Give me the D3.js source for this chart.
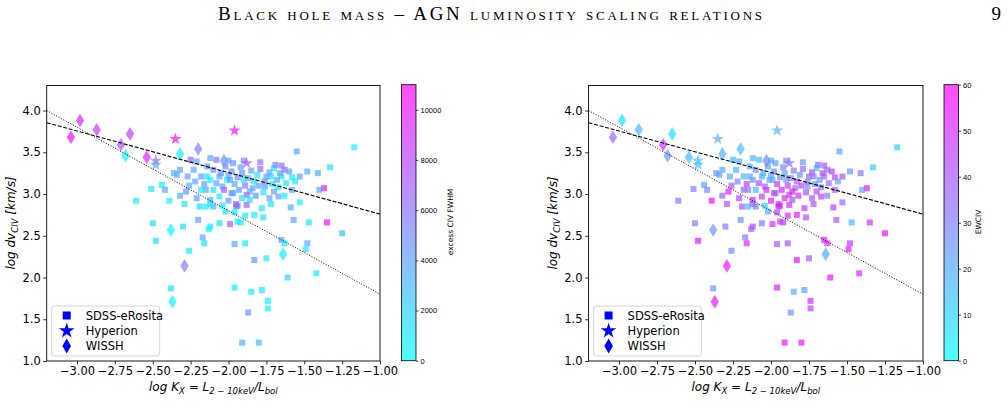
<!DOCTYPE html>
<html>
<head>
<meta charset="utf-8">
<script src="https://cdn.jsdelivr.net/npm/d3@7"></script>
<style>
  body { margin: 0; background: #fff; }
  svg { display: block; font-family: "DejaVu Sans", sans-serif; }
</style>
</head>
<body>
<svg id="chart" width="1007" height="419"></svg>
<script>
// SDSS-eRosita squares: x, y, excess CIV FWHM, EW CIV
const sdssX = [-2.61,-2.51,-2.44,-2.42,-2.39,-2.34,-2.32,-2.29,-2.28,-2.27,-2.23,-2.21,-2.18,-2.21,-2.19,-2.15,-2.12,-2.10,-2.04,-2.02,
  -2.12,-2.10,-2.04,-2.01,-1.98,-1.95,-2.12,-2.08,-1.97,-1.98,-2.25,-2.32,-2.36,-2.20,-2.50,-2.30,-2.12,-2.06,-1.99,-1.94,
  -2.48,-2.26,-2.17,-2.16,-2.13,-1.96,-1.89,-1.83,-1.75,-2.38,-1.96,-1.85,-1.78,-1.74,-1.74,-1.87,-1.91,-1.80,-1.65,-1.63,
  -1.61,-1.48,-1.49,-1.42,-1.47,-1.35,-1.25,-1.57,-1.55,-1.17,-1.33,-1.41,-1.48,-1.53,-1.58,-1.63,-1.65,-1.70,-1.72,-1.65,
  -1.37,-1.40,-1.53,-1.59,-1.79,-2.15,-1.78,-1.92,-1.89,-1.83,-1.77,-1.94,-1.88,
  -1.92,-1.84,-1.76,-1.73,-1.68,-1.63,-1.67,-2.10,-2.06,-2.03,-1.99,-1.97,-1.90,-1.88,-2.14,-2.12,-1.95,-1.86,-1.81,-1.75,
  -2.08,-2.05,-2.02,-2.00,-1.96,-1.94,-1.93,-1.91,-1.89,-1.87,-1.86,-1.85,-1.83,-1.82,-1.80,-1.79,-1.77,-1.76,-1.73,-1.71,
  -1.70,-1.69,-1.67,-1.66,-1.62,-1.60,-1.58,-1.56,-2.16,-2.14,-2.18,-2.22,-2.06,-2.00,-1.96,-1.91,-2.26,-2.00,-1.90,-1.72];
const sdssY = [2.92,3.06,3.11,3.05,2.92,3.23,2.98,2.88,3.03,3.21,3.29,3.39,3.21,2.95,2.85,2.85,2.93,2.85,2.86,2.79,
  3.17,3.05,3.09,3.17,3.01,2.85,3.43,3.41,3.37,3.27,3.41,3.29,3.25,2.69,2.65,2.61,2.61,2.65,2.64,2.67,
  2.44,2.32,2.48,2.41,2.58,2.40,2.41,2.21,2.23,1.87,1.88,1.83,1.85,1.72,1.63,1.58,1.22,1.22,2.45,2.41,
  2.00,2.41,2.34,2.05,2.66,2.66,2.53,2.69,3.51,3.56,3.32,3.25,3.27,3.21,3.20,3.29,3.34,3.31,3.21,3.21,
  3.07,3.05,2.90,2.84,3.38,3.05,2.83,2.66,2.74,2.75,2.72,2.86,2.87,
  3.32,3.07,3.09,2.95,3.17,2.98,2.97,3.29,3.21,3.05,3.17,3.01,3.17,2.99,3.21,2.88,2.88,2.93,3.23,3.21,
  3.13,3.25,3.33,3.22,3.12,3.20,3.05,3.25,3.10,3.19,3.03,3.28,3.15,2.98,3.10,3.30,3.02,3.15,3.26,3.12,
  3.03,3.35,3.08,3.25,3.13,3.27,3.05,3.15,3.12,3.33,3.05,3.15,2.97,2.92,2.78,2.95,3.10,3.40,3.40,2.88];
const sdssFwhm = [800,1000,500,4000,300,3500,3500,1000,4500,4000,3500,4000,4000,4000,1500,500,3000,3500,1000,1000,
  800,1000,3500,500,4500,500,4000,6000,4500,4500,6500,4000,3500,4000,1500,1000,800,1000,7000,1000,
  1500,500,4000,1000,500,4000,1000,4500,1000,1000,1000,1000,1000,500,500,4500,3000,3000,4000,1000,
  1500,4000,1000,800,1000,10500,2500,4000,3500,500,800,3500,3500,4000,1000,6500,6000,500,800,1000,
  10000,3500,500,3500,6500,4000,800,1000,1000,1000,1000,6500,6500,
  4000,4000,4000,4000,4000,1000,4000,5000,4000,7000,4000,4000,1000,7000,1000,1000,7000,1000,1000,4000,
  4000,4500,5000,4000,3500,5000,4000,4500,6000,3500,4000,4000,1000,4500,4000,6500,1000,4500,3500,1000,
  4000,6000,1000,4000,1000,4000,4000,1000,4000,4500,1000,4000,1000,4000,1000,1000,3500,4000,4500,1000];
const sdssEw = [32,30,22,28,55,22,35,40,55,20,18,20,18,45,40,15,50,30,10,20,
  25,15,35,20,40,50,18,15,20,28,15,20,25,25,30,30,45,30,50,45,
  55,28,30,50,35,40,40,55,40,25,55,18,20,50,45,25,55,55,55,50,
  55,45,55,50,18,50,55,40,20,10,12,30,25,40,45,35,40,12,30,35,
  55,20,35,45,25,30,45,45,50,55,40,45,50,
  30,35,30,40,25,30,45,25,20,50,20,40,25,45,20,35,50,40,25,35,
  40,18,20,20,45,25,50,20,45,35,55,30,40,50,45,35,40,30,40,25,
  45,35,30,40,35,45,40,20,45,20,35,30,45,55,45,50,40,22,25,40];

// Hyperion stars
const hypX = [-2.35,-1.96,-2.48,-2.48,-1.88];
const hypY = [3.66,3.76,3.40,3.35,3.37];
const hypFwhm = [10500,10500,6000,4000,7500];
const hypEw = [18,18,12,15,35];

// WISSH diamonds
const wisshX = [-3.04,-2.98,-2.87,-2.65,-2.71,-2.68,-2.54,-2.32,-2.20,-2.03,-2.38,-2.29,-2.37,-1.64];
const wisshY = [3.68,3.88,3.77,3.72,3.59,3.46,3.44,3.48,3.54,3.40,2.57,2.14,1.71,2.28];
const wisshFwhm = [10500,9000,8500,8500,7500,500,9500,300,5500,4500,300,5500,500,800];
const wisshEw = [35,5,15,8,50,25,15,18,15,28,25,55,55,20];

// fitted relations: y = a + b x
const fitDashed = [2.262, -0.4977];
const fitDotted = [0.8, -1.0];

const xTicks = [-3.0,-2.75,-2.5,-2.25,-2.0,-1.75,-1.5,-1.25,-1.0];
const yTicks = [1.0,1.5,2.0,2.5,3.0,3.5,4.0];
const fwhmTicks = [0,2000,4000,6000,8000,10000];
const ewTicks = [0,10,20,30,40,50,60];

const svg = d3.select("#chart");
const cool = d3.interpolateRgb("#00ffff", "#ff00ff");

// page header
svg.append("text")
  .attr("x", 490).attr("y", 20)
  .attr("text-anchor", "middle")
  .style("font-family", "'Liberation Serif', serif")
  .style("font-variant", "small-caps")
  .style("font-size", "19px")
  .attr("textLength", 544)
  .text("Black hole mass – AGN luminosity scaling relations");
svg.append("text")
  .attr("x", 1001).attr("y", 20)
  .attr("text-anchor", "end")
  .style("font-family", "'Liberation Serif', serif")
  .style("font-size", "19px")
  .text("9");

function diamond(w, h) {
  return `M0,${-h}L${w},0L0,${h}L${-w},0Z`;
}
const starPath = d3.symbol().type(d3.symbolStar).size(46)();

function panel(opt) {
  const x = d3.scaleLinear().domain([-3.2, -1.0]).range([opt.left, opt.right]);
  const y = d3.scaleLinear().domain([1.0, 4.3]).range([361, 85.5]);
  const cScale = d3.scaleLinear().domain([0, opt.cMax]).range([0, 1]).clamp(true);
  const col = v => cool(cScale(v));
  const g = svg.append("g");

  const clipId = "clip" + opt.left;
  svg.append("clipPath").attr("id", clipId)
    .append("rect").attr("x", opt.left).attr("y", 85.5)
    .attr("width", opt.right - opt.left).attr("height", 361 - 85.5);
  const plot = g.append("g").attr("clip-path", `url(#${clipId})`);

  // squares
  plot.selectAll("rect.sq").data(d3.range(sdssX.length)).join("rect")
    .attr("x", i => x(sdssX[i]) - 3).attr("y", i => y(sdssY[i]) - 3)
    .attr("width", 6).attr("height", 6)
    .attr("fill", i => col(opt.sdssC[i])).attr("fill-opacity", 0.7);
  // stars
  plot.selectAll("path.st").data(d3.range(hypX.length)).join("path")
    .attr("d", starPath)
    .attr("transform", i => `translate(${x(hypX[i])},${y(hypY[i])})`)
    .attr("fill", i => col(opt.hypC[i])).attr("fill-opacity", 0.7);
  // diamonds
  plot.selectAll("path.di").data(d3.range(wisshX.length)).join("path")
    .attr("d", diamond(4.2, 6.8))
    .attr("transform", i => `translate(${x(wisshX[i])},${y(wisshY[i])})`)
    .attr("fill", i => col(opt.wisshC[i])).attr("fill-opacity", 0.7);

  // relations
  const xs = [-3.2, -1.0];
  plot.append("line")
    .attr("x1", x(xs[0])).attr("y1", y(fitDashed[0] + fitDashed[1] * xs[0]))
    .attr("x2", x(xs[1])).attr("y2", y(fitDashed[0] + fitDashed[1] * xs[1]))
    .attr("stroke", "#000").attr("stroke-width", 1.1).attr("stroke-dasharray", "4,1.7");
  plot.append("line")
    .attr("x1", x(xs[0])).attr("y1", y(fitDotted[0] + fitDotted[1] * xs[0]))
    .attr("x2", x(xs[1])).attr("y2", y(fitDotted[0] + fitDotted[1] * xs[1]))
    .attr("stroke", "#000").attr("stroke-width", 1).attr("stroke-dasharray", "1,1.7");

  // axes
  const ax = g.append("g").attr("transform", "translate(0,361)")
    .call(d3.axisBottom(x).tickValues(xTicks).tickFormat(d3.format(".2f")).tickSize(3.5).tickPadding(2.5));
  const ay = g.append("g").attr("transform", `translate(${opt.left},0)`)
    .call(d3.axisLeft(y).tickValues(yTicks).tickFormat(d3.format(".1f")).tickSize(3.5).tickPadding(2.5));
  [ax, ay].forEach(a => {
    a.select(".domain").remove();
    a.selectAll("text").style("font-size", "11.5px").style("font-family", "'DejaVu Sans', sans-serif").attr("fill", "#000");
    a.selectAll("line").attr("stroke", "#000").attr("stroke-width", 0.8);
  });
  g.append("rect").attr("x", opt.left).attr("y", 85.5)
    .attr("width", opt.right - opt.left).attr("height", 361 - 85.5)
    .attr("fill", "none").attr("stroke", "#000").attr("stroke-width", 0.9);

  // axis labels
  const cx = (opt.left + opt.right) / 2;
  const xl = g.append("text").attr("x", cx).attr("y", 391).attr("text-anchor", "middle")
    .style("font-size", "12px").style("font-style", "italic");
  xl.append("tspan").text("log K");
  xl.append("tspan").attr("dy", 3).style("font-size", "8.5px").text("X");
  xl.append("tspan").attr("dy", -3).text(" = L");
  xl.append("tspan").attr("dy", 3).style("font-size", "8.5px").text("2 − 10keV");
  xl.append("tspan").attr("dy", -3).text("/L");
  xl.append("tspan").attr("dy", 3).style("font-size", "8.5px").text("bol");

  const yl = g.append("text")
    .attr("transform", `translate(${opt.left - 32},223) rotate(-90)`)
    .attr("text-anchor", "middle")
    .style("font-size", "12px").style("font-style", "italic");
  yl.append("tspan").text("log dv");
  yl.append("tspan").attr("dy", 3).style("font-size", "8.5px").text("CIV");
  yl.append("tspan").attr("dy", -3).text(" [km/s]");

  // legend
  const lg = g.append("g").attr("transform", `translate(${opt.left + 5},306)`);
  lg.append("rect").attr("width", 108).attr("height", 50).attr("rx", 3)
    .attr("fill", "#fff").attr("fill-opacity", 0.8).attr("stroke", "#ccc").attr("stroke-width", 0.8);
  const names = ["SDSS-eRosita", "Hyperion", "WISSH"];
  names.forEach((n, k) => {
    const yy = 9.5 + k * 15.3;
    if (k === 0) lg.append("rect").attr("x", 11).attr("y", yy - 4).attr("width", 8).attr("height", 8).attr("fill", "#0000ff");
    if (k === 1) lg.append("path").attr("d", d3.symbol().type(d3.symbolStar).size(75)()).attr("transform", `translate(15,${yy})`).attr("fill", "#0000ff");
    if (k === 2) lg.append("path").attr("d", diamond(4.3, 7.5)).attr("transform", `translate(15,${yy})`).attr("fill", "#0000ff");
    lg.append("text").attr("x", 34).attr("y", yy + 4).style("font-size", "11.5px").text(n);
  });

  // colorbar
  const cb = d3.scaleLinear().domain([0, opt.cMax]).range([360.7, 84.7]);
  const gradId = "grad" + opt.left;
  const grad = svg.append("defs").append("linearGradient").attr("id", gradId)
    .attr("x1", 0).attr("y1", 1).attr("x2", 0).attr("y2", 0);
  grad.append("stop").attr("offset", 0).attr("stop-color", "#00ffff");
  grad.append("stop").attr("offset", 1).attr("stop-color", "#ff00ff");
  g.append("rect").attr("x", opt.cbx).attr("y", 84.7).attr("width", 14.5).attr("height", 276)
    .attr("fill", `url(#${gradId})`).attr("fill-opacity", 0.7);
  g.append("rect").attr("x", opt.cbx).attr("y", 84.7).attr("width", 14.5).attr("height", 276)
    .attr("fill", "none").attr("stroke", "#000").attr("stroke-width", 0.8);
  const ac = g.append("g").attr("transform", `translate(${opt.cbx + 14.5},0)`)
    .call(d3.axisRight(cb).tickValues(opt.cTicks).tickFormat(d3.format("d")).tickSize(2.5).tickPadding(2));
  ac.select(".domain").remove();
  ac.selectAll("text").style("font-size", "7.5px").attr("fill", "#000");
  ac.selectAll("line").attr("stroke", "#000").attr("stroke-width", 0.7);
  g.append("text").attr("transform", `translate(${opt.cbLabelX},222) rotate(-90)`)
    .attr("text-anchor", "middle").style("font-size", "7.5px").text(opt.cLabel);
}

panel({ left: 46.7, right: 380, cMax: 11000, cTicks: fwhmTicks, cbx: 401.5,
  cbLabelX: 453, cLabel: "excess CIV FWHM",
  sdssC: sdssFwhm, hypC: hypFwhm, wisshC: wisshFwhm });
panel({ left: 588.6, right: 923, cMax: 60, cTicks: ewTicks, cbx: 944,
  cbLabelX: 981, cLabel: "EWCIV",
  sdssC: sdssEw, hypC: hypEw, wisshC: wisshEw });
</script>
</body>
</html>
